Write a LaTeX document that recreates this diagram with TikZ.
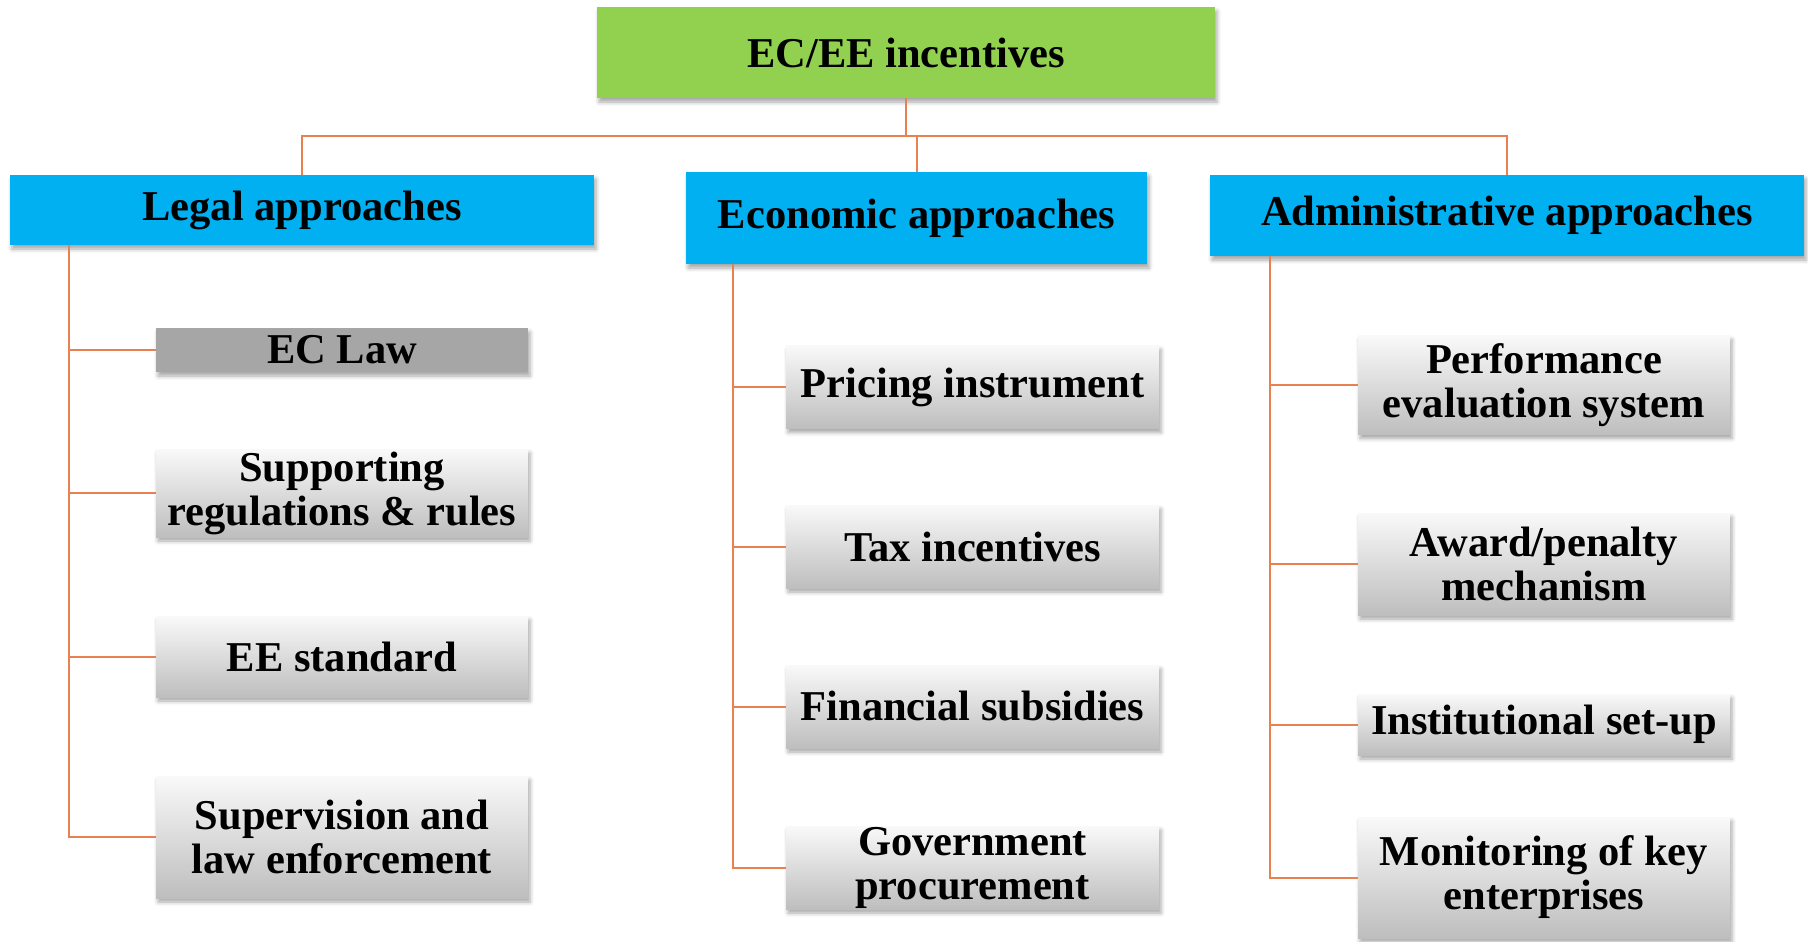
\documentclass[tikz,border=0pt]{standalone}
\usepackage{fontspec}
\setmainfont{Liberation Serif}
\usetikzlibrary{shadows.blur}
\definecolor{topgreen}{RGB}{146,208,80}
\definecolor{headblue}{RGB}{0,176,240}
\definecolor{linkorange}{RGB}{232,128,80}
\definecolor{boxtop}{RGB}{249,249,249}
\definecolor{boxbot}{RGB}{190,190,190}
\definecolor{lawgrey}{RGB}{166,166,166}
\begin{document}
\begin{tikzpicture}[x=1pt,y=-1pt,
  every node/.style={font=\fontsize{42.5}{44}\selectfont\bfseries, inner sep=0pt, align=center},
  boxshadow/.style={blur shadow={shadow xshift=2pt, shadow yshift=-4pt, shadow blur radius=4pt, shadow opacity=35}},
  rootbox/.style={fill=topgreen, minimum width=618pt, minimum height=91pt, boxshadow},
  headbox/.style={fill=headblue, boxshadow},
  itembox/.style={top color=boxtop, bottom color=boxbot, minimum width=372pt, boxshadow},
  lawbox/.style={fill=lawgrey, minimum width=372pt, boxshadow},
  link/.style={draw=linkorange, line width=2pt}
]
\useasboundingbox (0,0) rectangle (1808,942);

% root and approach boxes
\node[rootbox] (top) at (906,52.5) {EC/EE incentives};
\node[headbox, minimum width=584pt, minimum height=70pt] (legal) at (302,210) {Legal approaches};
\node[headbox, minimum width=461pt, minimum height=92pt] (econ) at (916.5,218) {Economic approaches};
\node[headbox, minimum width=594pt, minimum height=81pt] (admin) at (1507,215.5) {Administrative approaches};

% legal items
\node[lawbox, minimum height=44pt] (l1) at (342,350) {EC Law};
\node[itembox, minimum height=88pt] (l2) at (342,493) {Supporting\\regulations \& rules};
\node[itembox, minimum height=81pt] (l3) at (342,656.5) {EE standard};
\node[itembox, minimum height=122pt] (l4) at (342,837) {Supervision and\\law enforcement};

% economic items
\node[itembox, minimum width=373pt, minimum height=83pt] (e1) at (972.5,387) {Pricing instrument};
\node[itembox, minimum width=373pt, minimum height=83pt] (e2) at (972.5,546.5) {Tax incentives};
\node[itembox, minimum width=373pt, minimum height=83pt] (e3) at (972.5,706.5) {Financial subsidies};
\node[itembox, minimum width=373pt, minimum height=83pt] (e4) at (972.5,867.5) {Government\\procurement};

% administrative items
\node[itembox, minimum height=99pt] (a1) at (1544,385) {Performance\\evaluation system};
\node[itembox, minimum height=102pt] (a2) at (1544,564) {Award/penalty\\mechanism};
\node[itembox, minimum height=61pt] (a3) at (1544,724.5) {Institutional set-up};
\node[itembox, minimum height=121pt] (a4) at (1544,877.5) {Monitoring of key\\enterprises};

% connectors from root
\coordinate (bus) at (906,136);
\draw[link] (top.south) |- (legal.north |- bus) -- (legal.north);
\draw[link] (top.south) |- (econ.north |- bus) -- (econ.north);
\draw[link] (top.south) |- (admin.north |- bus) -- (admin.north);

% legal branch
\coordinate (lspine) at ([xshift=59pt]legal.south west);
\foreach \n in {l1,l2,l3,l4} \draw[link] (lspine) |- (\n.west);

% economic branch
\coordinate (espine) at ([xshift=47pt]econ.south west);
\foreach \n in {e1,e2,e3,e4} \draw[link] (espine) |- (\n.west);

% administrative branch
\coordinate (aspine) at ([xshift=60pt]admin.south west);
\foreach \n in {a1,a2,a3,a4} \draw[link] (aspine) |- (\n.west);
\end{tikzpicture}
\end{document}
